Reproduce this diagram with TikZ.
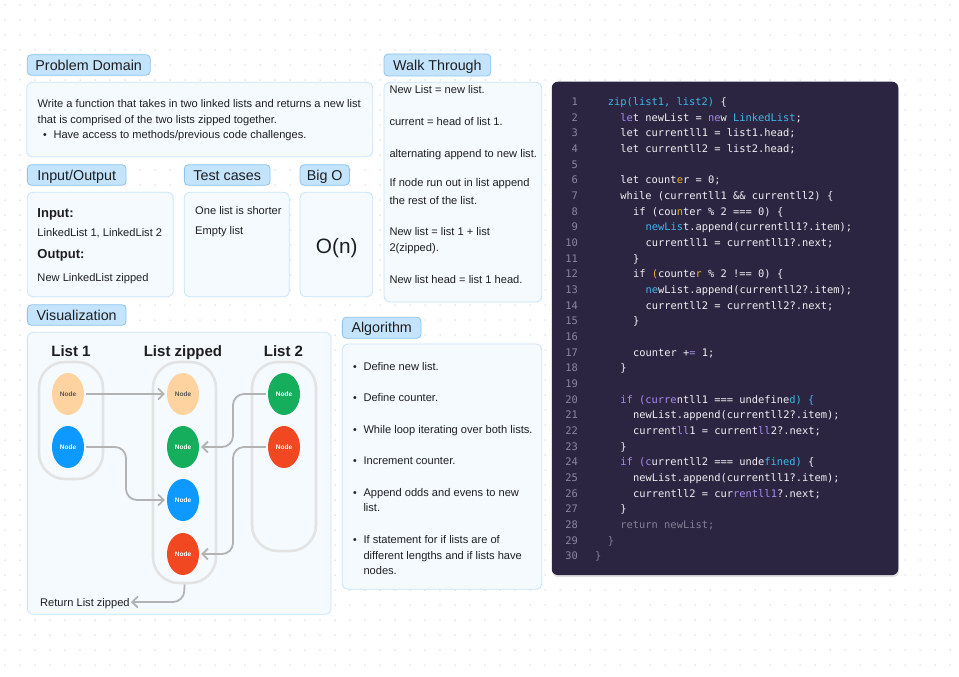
\documentclass[tikz,border=0pt]{standalone}
\usepackage{fontspec}
\setmainfont{Liberation Sans}
\newfontfamily\codefont{DejaVu Sans Mono}[WordSpace={1,0,0},PunctuationSpace=WordSpace]
\usetikzlibrary{arrows.meta,shapes.geometric}
\definecolor{tagfill}{HTML}{C4E4FD}
\definecolor{tagline}{HTML}{8CC4F0}
\definecolor{boxfill}{HTML}{F5FAFF}
\definecolor{boxline}{HTML}{C8E4FB}
\definecolor{codebg}{HTML}{2C2541}
\definecolor{codefg}{HTML}{F0F0F4}
\definecolor{codenum}{HTML}{8C86A0}
\definecolor{codedim}{HTML}{857F96}
\definecolor{ccyan}{HTML}{3DB7E9}
\definecolor{cpurple}{HTML}{A98BF0}
\definecolor{cyellow}{HTML}{E8B520}
\definecolor{peach}{HTML}{FFD3A0}
\definecolor{nblue}{HTML}{0D99FF}
\definecolor{ngreen}{HTML}{14AE5C}
\definecolor{nred}{HTML}{F24822}
\definecolor{arrgray}{HTML}{B3B3B3}
\definecolor{contgray}{HTML}{E3E3E3}
\definecolor{dotgray}{HTML}{D2D2D2}
\definecolor{txt}{HTML}{1E1E1E}
\newcommand\Cy[1]{\textcolor{ccyan}{#1}}
\newcommand\Pu[1]{\textcolor{cpurple}{#1}}
\newcommand\Ye[1]{\textcolor{cyellow}{#1}}
\newcommand\Dm[1]{\textcolor{codedim}{#1}}
\newcommand\cl[3]{%
  \node[codenumst] (n#1) at (578,{105.4+15.67*(#1-1)}) {#1};
  \node[codest] (l#1) at ({595+6.3*#2},{105.4+15.67*(#1-1)}) {#3};}
\newcommand\cn[1]{\node[codenumst] (n#1) at (578,{105.4+15.67*(#1-1)}) {#1};}
\begin{document}
\begin{tikzpicture}[x=1pt,y=-1pt,
  tag/.style={draw=tagline,fill=tagfill,line width=0.8pt,rounded corners=4pt,inner sep=0pt,
    text=txt,font=\fontsize{14.3}{16}\selectfont,text height=10.2pt,text depth=0pt},
  panel/.style={draw=boxline,fill=boxfill,line width=0.8pt,rounded corners=6pt,inner sep=0pt},
  body/.style={anchor=base west,inner sep=0pt,text=txt,font=\fontsize{11.1}{13}\selectfont},
  bul/.style={anchor=base,inner sep=0pt,text=txt,font=\fontsize{10.5}{12}\selectfont},
  hbold/.style={anchor=base west,inner sep=0pt,text=txt,font=\fontsize{13}{15}\selectfont\bfseries},
  ltitle/.style={anchor=base,inner sep=0pt,text=txt,font=\fontsize{15}{17}\selectfont\bfseries},
  cont/.style={draw=contgray,line width=2.6pt,rounded corners=26pt,inner sep=0pt},
  lnode/.style={ellipse,minimum width=32pt,minimum height=42pt,inner sep=0pt,text=white,
    font=\fontsize{6.5}{7}\selectfont\bfseries},
  arr/.style={draw=arrgray,line width=1.8pt,rounded corners=11pt,
    -{Straight Barb[length=5.5pt,width=11pt,line width=1.8pt]}},
  codenumst/.style={anchor=base east,inner sep=0pt,text=codenum,font=\codefont\fontsize{10.4}{12}\selectfont},
  codest/.style={anchor=base west,inner sep=0pt,text=codefg,font=\codefont\fontsize{10.4}{12}\selectfont\frenchspacing},
]
\useasboundingbox (0,0) rectangle (959,677);
\fill[white] (0,0) rectangle (959,677);
\foreach \i in {0,...,63}{\foreach \j in {0,...,45}{\fill[dotgray] ({5+15*\i},{5+15*\j}) circle (0.75pt);}}

% ---------- Problem Domain
\node[tag,minimum width=123pt,minimum height=20.5pt] (tPD) at (88.7,65) {Problem Domain};
\node[panel,minimum width=346pt,minimum height=74.5pt] (bPD) at (199.7,119.5) {};
\node[body] (pd1) at (37.5,107.3) {Write a function that takes in two linked lists and returns a new list};
\node[body] (pd2) at (37.5,123.3) {that is comprised of the two lists zipped together.};
\node[bul] (pd3b) at (45,139) {\textbullet};
\node[body] (pd3) at (53.3,139) {Have access to methods/previous code challenges.};

% ---------- Input/Output
\node[tag,minimum width=98.7pt,minimum height=20.5pt] (tIO) at (76.7,175) {Input/Output};
\node[panel,minimum width=146pt,minimum height=104.4pt] (bIO) at (100.3,244.5) {};
\node[hbold] (io1) at (37.3,217.4) {Input:};
\node[body] (io2) at (37.3,236.7) {LinkedList 1, LinkedList 2};
\node[hbold] (io3) at (37.3,258.7) {Output:};
\node[body] (io4) at (37.3,281.3) {New LinkedList zipped};

% ---------- Test cases
\node[tag,minimum width=85.7pt,minimum height=20.5pt] (tTC) at (227.2,175) {Test cases};
\node[panel,minimum width=105pt,minimum height=104.4pt] (bTC) at (236.8,244.5) {};
\node[body] (tc1) at (195,214) {One list is shorter};
\node[body] (tc2) at (195,234) {Empty list};

% ---------- Big O
\node[tag,minimum width=49.3pt,minimum height=20.5pt] (tBO) at (324.7,175) {Big O};
\node[panel,minimum width=72.7pt,minimum height=104.4pt] (bBO) at (336.4,244.5) {};
\node[anchor=base,inner sep=0pt,text=txt,font=\fontsize{20.8}{23}\selectfont] (bo) at (336.7,253.5) {O(n)};

% ---------- Walk Through
\node[tag,minimum width=106.7pt,minimum height=22pt] (tWT) at (437.4,65) {Walk Through};
\node[panel,minimum width=157.7pt,minimum height=219.7pt] (bWT) at (462.9,192.2) {};
\node[body] (wt1) at (389.3,94) {New List = new list.};
\node[body] (wt2) at (389.3,125.7) {current = head of list 1.};
\node[body] (wt3) at (389.3,157.3) {alternating append to new list.};
\node[body] (wt4) at (389.3,186.7) {If node run out in list append};
\node[body] (wt5) at (389.3,204) {the rest of the list.};
\node[body] (wt6) at (389.3,235.7) {New list = list 1 + list};
\node[body] (wt7) at (389.3,251.3) {2(zipped).};
\node[body] (wt8) at (389.3,283.3) {New list head = list 1 head.};

% ---------- Visualization
\node[tag,minimum width=98.7pt,minimum height=20.5pt] (tVZ) at (76.7,315) {Visualization};
\node[panel,minimum width=303.7pt,minimum height=282pt] (bVZ) at (179.2,473.3) {};
\node[ltitle] (h1) at (71,356.4) {List 1};
\node[ltitle] (hz) at (183,356.4) {List zipped};
\node[ltitle] (h2) at (283.5,356.4) {List 2};
\node[cont,minimum width=64pt,minimum height=117pt] (c1) at (71,420.5) {};
\node[cont,minimum width=63pt,minimum height=221pt] (cz) at (184.5,472.5) {};
\node[cont,minimum width=64pt,minimum height=189pt] (c2) at (284,456.5) {};
\node[lnode,fill=peach,text=txt!75] (a1) at (68,394) {Node};
\node[lnode,fill=nblue] (a2) at (68,447) {Node};
\node[lnode,fill=peach,text=txt!75] (z1) at (183,394) {Node};
\node[lnode,fill=ngreen] (z2) at (183,447) {Node};
\node[lnode,fill=nblue] (z3) at (183,500) {Node};
\node[lnode,fill=nred] (z4) at (183,554) {Node};
\node[lnode,fill=ngreen] (b1) at (284,394) {Node};
\node[lnode,fill=nred] (b2) at (284,447) {Node};
\draw[arr,shorten <=2pt,shorten >=2pt] (a1.east) -- (z1.west);
\draw[arr,shorten <=2pt,shorten >=2pt] (a2.east) -- (126,447) -- (126,500) -- (z3.west);
\draw[arr,shorten <=2pt,shorten >=2pt] (b1.west) -- (233,394) -- (233,447) -- (z2.east);
\draw[arr,shorten <=2pt,shorten >=2pt] (b2.west) -- (233,447) -- (233,554) -- (z4.east);
\node[body] (ret) at (40,606) {Return List zipped};
\coordinate (retend) at (131,602);
\draw[arr] (cz.south) -- (184,602) -- (retend);

% ---------- Algorithm
\node[tag,minimum width=78.7pt,minimum height=21pt] (tAL) at (381.7,327.8) {Algorithm};
\node[panel,minimum width=199.4pt,minimum height=245.3pt] (bAL) at (442,466.6) {};
\node[bul] (al1b) at (355,370) {\textbullet};
\node[body] (al1) at (363.3,370) {Define new list.};
\node[bul] (al2b) at (355,401.7) {\textbullet};
\node[body] (al2) at (363.3,401.7) {Define counter.};
\node[bul] (al3b) at (355,433) {\textbullet};
\node[body] (al3) at (363.3,433) {While loop iterating over both lists.};
\node[bul] (al4b) at (355,464.7) {\textbullet};
\node[body] (al4) at (363.3,464.7) {Increment counter.};
\node[bul] (al5b) at (355,496.3) {\textbullet};
\node[body] (al5) at (363.3,496.3) {Append odds and evens to new};
\node[body] (al5c) at (363.3,511.7) {list.};
\node[bul] (al6b) at (355,543.3) {\textbullet};
\node[body] (al6) at (363.3,543.3) {If statement for if lists are of};
\node[body] (al6c) at (363.3,559) {different lengths and if lists have};
\node[body] (al6d) at (363.3,574) {nodes.};

% ---------- Code
\fill[black!12,rounded corners=6pt] (552,84) rectangle (899,577);
\node[fill=codebg,rounded corners=6pt,minimum width=346.5pt,minimum height=493.3pt,inner sep=0pt] (code) at (725,328.4) {};
\cl{1}{2}{\Cy{zip(list1, list2)} \{}
\cl{2}{4}{\Pu{le}t newList = \Pu{ne}w \Cy{LinkedList};}
\cl{3}{4}{let currentll1 = list1.head;}
\cl{4}{4}{let currentll2 = list2.head;}
\cn{5}
\cl{6}{4}{let count\Ye{e}r = 0;}
\cl{7}{4}{while (currentll1 \&\& currentll2) \{}
\cl{8}{6}{if (cou\Ye{n}ter \% 2 === 0) \{}
\cl{9}{8}{\Cy{newLis}t.append(currentll1?.item);}
\cl{10}{8}{currentll1 = currentll1?.next;}
\cl{11}{6}{\}}
\cl{12}{6}{if \Ye{(}counte\Ye{r} \% 2 !== 0) \{}
\cl{13}{8}{\Cy{ne}wList.append(currentll2?.item);}
\cl{14}{8}{currentll2 = currentll2?.next;}
\cl{15}{6}{\}}
\cn{16}
\cl{17}{6}{counter +\Pu{=} 1;}
\cl{18}{4}{\}}
\cn{19}
\cl{20}{4}{\Pu{if (curre}ntll1 === undefine\Cy{d) \{}}
\cl{21}{6}{newList.append(currentll2?.item);}
\cl{22}{6}{current\Pu{ll}1 = current\Pu{ll}2?.next;}
\cl{23}{4}{\}}
\cl{24}{4}{\Pu{if (c}urrentll2 === unde\Cy{fined)} \{}
\cl{25}{6}{newList.append(currentll1?.item);}
\cl{26}{6}{currentll2 = cur\Pu{rentll1}?.next;}
\cl{27}{4}{\}}
\cl{28}{4}{\Dm{return newList;}}
\cl{29}{2}{\Dm{\}}}
\cl{30}{0}{\Dm{\}}}
\end{tikzpicture}
\end{document}
